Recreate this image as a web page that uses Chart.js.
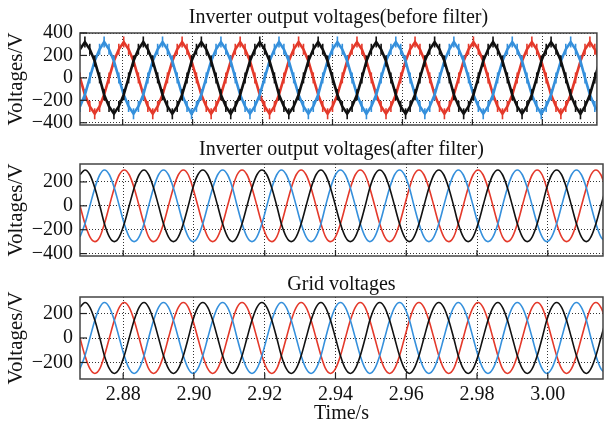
<!DOCTYPE html>
<html>
<head>
<meta charset="utf-8">
<script src="https://cdn.jsdelivr.net/npm/chart.js@4"></script>
<style>
  body { margin: 0; background: #fff; }
  #wrap { position: relative; width: 604px; height: 426px; }
  canvas { position: absolute; left: 0; }
</style>
</head>
<body>
<div id="wrap">
  <canvas id="c1" width="604" height="138" style="top:0;width:604px;height:138px"></canvas>
  <canvas id="c2" width="604" height="132" style="top:138px;width:604px;height:132px"></canvas>
  <canvas id="c3" width="604" height="156" style="top:270px;width:604px;height:156px"></canvas>
</div>
<script>
// sample times (s), 1/12 of a 60 Hz cycle apart
const times = [
  2.8678,2.8692,2.8706,2.8720,2.8734,2.8747,2.8761,2.8775,2.8789,2.8803,2.8817,2.8831,
  2.8845,2.8859,2.8872,2.8886,2.8900,2.8914,2.8928,2.8942,2.8956,2.8970,2.8984,2.8997,
  2.9011,2.9025,2.9039,2.9053,2.9067,2.9081,2.9095,2.9109,2.9122,2.9136,2.9150,2.9164,
  2.9178,2.9192,2.9206,2.9220,2.9234,2.9247,2.9261,2.9275,2.9289,2.9303,2.9317,2.9331,
  2.9345,2.9359,2.9372,2.9386,2.9400,2.9414,2.9428,2.9442,2.9456,2.9470,2.9484,2.9497,
  2.9511,2.9525,2.9539,2.9553,2.9567,2.9581,2.9595,2.9609,2.9622,2.9636,2.9650,2.9664,
  2.9678,2.9692,2.9706,2.9720,2.9734,2.9747,2.9761,2.9775,2.9789,2.9803,2.9817,2.9831,
  2.9845,2.9859,2.9872,2.9886,2.9900,2.9914,2.9928,2.9942,2.9956,2.9970,2.9984,2.9997,
  3.0011,3.0025,3.0039,3.0053,3.0067,3.0081,3.0095,3.0109,3.0122,3.0136,3.0150,3.0164
];

// inverter output before filter (staircase levels, V)
const beforeBlack = [
  255,320,255,150,0,-150,-255,-320,-255,-150,0,150,
  255,320,255,150,0,-150,-255,-320,-255,-150,0,150,
  255,320,255,150,0,-150,-255,-320,-255,-150,0,150,
  255,320,255,150,0,-150,-255,-320,-255,-150,0,150,
  255,320,255,150,0,-150,-255,-320,-255,-150,0,150,
  255,320,255,150,0,-150,-255,-320,-255,-150,0,150,
  255,320,255,150,0,-150,-255,-320,-255,-150,0,150,
  255,320,255,150,0,-150,-255,-320,-255,-150,0,150,
  255,320,255,150,0,-150,-255,-320,-255,-150,0,150
];
const beforeBlue = [
  -255,-150,0,150,255,320,255,150,0,-150,-255,-320,
  -255,-150,0,150,255,320,255,150,0,-150,-255,-320,
  -255,-150,0,150,255,320,255,150,0,-150,-255,-320,
  -255,-150,0,150,255,320,255,150,0,-150,-255,-320,
  -255,-150,0,150,255,320,255,150,0,-150,-255,-320,
  -255,-150,0,150,255,320,255,150,0,-150,-255,-320,
  -255,-150,0,150,255,320,255,150,0,-150,-255,-320,
  -255,-150,0,150,255,320,255,150,0,-150,-255,-320,
  -255,-150,0,150,255,320,255,150,0,-150,-255,-320
];
const beforeRed = [
  0,-150,-255,-320,-255,-150,0,150,255,320,255,150,
  0,-150,-255,-320,-255,-150,0,150,255,320,255,150,
  0,-150,-255,-320,-255,-150,0,150,255,320,255,150,
  0,-150,-255,-320,-255,-150,0,150,255,320,255,150,
  0,-150,-255,-320,-255,-150,0,150,255,320,255,150,
  0,-150,-255,-320,-255,-150,0,150,255,320,255,150,
  0,-150,-255,-320,-255,-150,0,150,255,320,255,150,
  0,-150,-255,-320,-255,-150,0,150,255,320,255,150,
  0,-150,-255,-320,-255,-150,0,150,255,320,255,150
];

// inverter output after filter (V)
const afterBlack = [
  260,300,260,150,0,-150,-260,-300,-260,-150,0,150,
  260,300,260,150,0,-150,-260,-300,-260,-150,0,150,
  260,300,260,150,0,-150,-260,-300,-260,-150,0,150,
  260,300,260,150,0,-150,-260,-300,-260,-150,0,150,
  260,300,260,150,0,-150,-260,-300,-260,-150,0,150,
  260,300,260,150,0,-150,-260,-300,-260,-150,0,150,
  260,300,260,150,0,-150,-260,-300,-260,-150,0,150,
  260,300,260,150,0,-150,-260,-300,-260,-150,0,150,
  260,300,260,150,0,-150,-260,-300,-260,-150,0,150
];
const afterBlue = [
  -260,-150,0,150,260,300,260,150,0,-150,-260,-300,
  -260,-150,0,150,260,300,260,150,0,-150,-260,-300,
  -260,-150,0,150,260,300,260,150,0,-150,-260,-300,
  -260,-150,0,150,260,300,260,150,0,-150,-260,-300,
  -260,-150,0,150,260,300,260,150,0,-150,-260,-300,
  -260,-150,0,150,260,300,260,150,0,-150,-260,-300,
  -260,-150,0,150,260,300,260,150,0,-150,-260,-300,
  -260,-150,0,150,260,300,260,150,0,-150,-260,-300,
  -260,-150,0,150,260,300,260,150,0,-150,-260,-300
];
const afterRed = [
  0,-150,-260,-300,-260,-150,0,150,260,300,260,150,
  0,-150,-260,-300,-260,-150,0,150,260,300,260,150,
  0,-150,-260,-300,-260,-150,0,150,260,300,260,150,
  0,-150,-260,-300,-260,-150,0,150,260,300,260,150,
  0,-150,-260,-300,-260,-150,0,150,260,300,260,150,
  0,-150,-260,-300,-260,-150,0,150,260,300,260,150,
  0,-150,-260,-300,-260,-150,0,150,260,300,260,150,
  0,-150,-260,-300,-260,-150,0,150,260,300,260,150,
  0,-150,-260,-300,-260,-150,0,150,260,300,260,150
];

// grid voltages (V)
const gridBlack = [
  251,290,251,145,0,-145,-251,-290,-251,-145,0,145,
  251,290,251,145,0,-145,-251,-290,-251,-145,0,145,
  251,290,251,145,0,-145,-251,-290,-251,-145,0,145,
  251,290,251,145,0,-145,-251,-290,-251,-145,0,145,
  251,290,251,145,0,-145,-251,-290,-251,-145,0,145,
  251,290,251,145,0,-145,-251,-290,-251,-145,0,145,
  251,290,251,145,0,-145,-251,-290,-251,-145,0,145,
  251,290,251,145,0,-145,-251,-290,-251,-145,0,145,
  251,290,251,145,0,-145,-251,-290,-251,-145,0,145
];
const gridBlue = [
  -251,-145,0,145,251,290,251,145,0,-145,-251,-290,
  -251,-145,0,145,251,290,251,145,0,-145,-251,-290,
  -251,-145,0,145,251,290,251,145,0,-145,-251,-290,
  -251,-145,0,145,251,290,251,145,0,-145,-251,-290,
  -251,-145,0,145,251,290,251,145,0,-145,-251,-290,
  -251,-145,0,145,251,290,251,145,0,-145,-251,-290,
  -251,-145,0,145,251,290,251,145,0,-145,-251,-290,
  -251,-145,0,145,251,290,251,145,0,-145,-251,-290,
  -251,-145,0,145,251,290,251,145,0,-145,-251,-290
];
const gridRed = [
  0,-145,-251,-290,-251,-145,0,145,251,290,251,145,
  0,-145,-251,-290,-251,-145,0,145,251,290,251,145,
  0,-145,-251,-290,-251,-145,0,145,251,290,251,145,
  0,-145,-251,-290,-251,-145,0,145,251,290,251,145,
  0,-145,-251,-290,-251,-145,0,145,251,290,251,145,
  0,-145,-251,-290,-251,-145,0,145,251,290,251,145,
  0,-145,-251,-290,-251,-145,0,145,251,290,251,145,
  0,-145,-251,-290,-251,-145,0,145,251,290,251,145,
  0,-145,-251,-290,-251,-145,0,145,251,290,251,145
];

const xTicks = [2.88, 2.90, 2.92, 2.94, 2.96, 2.98, 3.00];
const yTicksWide = [-400, -200, 0, 200, 400];
const yTicksMid = [-400, -200, 0, 200];
const yTicksGrid = [-200, 0, 200];

const BLACK = '#111111', BLUE = '#3590dc', RED = '#e4392a';
const SERIF = '"Liberation Serif", "Times New Roman", serif';

// frame round the plot + short inner tick marks
const framePlugin = {
  id: 'frame',
  afterDatasetsDraw(chart) {
    const a = chart.chartArea, ctx = chart.ctx;
    ctx.save();
    ctx.strokeStyle = '#444';
    ctx.lineWidth = 1.5;
    ctx.strokeRect(a.left, a.top, a.right - a.left, a.bottom - a.top);
    ctx.lineWidth = 1.2;
    ctx.strokeStyle = '#222';
    chart.scales.x.ticks.forEach(t => {
      const px = chart.scales.x.getPixelForValue(t.value);
      ctx.beginPath(); ctx.moveTo(px, a.bottom); ctx.lineTo(px, a.bottom - 6); ctx.stroke();
    });
    chart.scales.y.ticks.forEach(t => {
      const py = chart.scales.y.getPixelForValue(t.value);
      ctx.beginPath(); ctx.moveTo(a.left, py); ctx.lineTo(a.left + 7, py); ctx.stroke();
    });
    ctx.restore();
  }
};

function series(arr, color, jagged) {
  return {
    data: times.map((t, i) => ({ x: t, y: arr[i] })),
    borderColor: color,
    backgroundColor: color,
    borderWidth: jagged ? 2.6 : 1.6,
    cubicInterpolationMode: jagged ? 'default' : 'monotone',
    tension: 0,
    pointRadius: jagged ? 5.5 : 0,
    pointStyle: 'line',
    pointRotation: 90,
    pointBorderWidth: 1.6,
    pointBorderColor: color
  };
}

function makePanel(id, title, sets, yMin, yMax, yTicks, p) {
  new Chart(document.getElementById(id), {
    type: 'line',
    data: { datasets: sets },
    plugins: [framePlugin],
    options: {
      responsive: false,
      animation: false,
      events: [],
      layout: { padding: { left: 0, right: 1, top: 0, bottom: 0 } },
      plugins: {
        legend: { display: false },
        tooltip: { enabled: false },
        title: {
          display: true, text: title, fullSize: false, color: '#111',
          font: { family: SERIF, size: 20, weight: 'normal' },
          padding: { top: p.titleTop, bottom: p.titleBottom }
        }
      },
      scales: {
        x: {
          type: 'linear', min: 2.8678, max: 3.0156,
          afterBuildTicks: s => { s.ticks = xTicks.map(v => ({ value: v })); },
          afterFit: s => { s.height = p.xHeight; },
          grid: { color: '#333', lineWidth: 1, drawTicks: true, tickLength: 4, tickColor: 'rgba(0,0,0,0)' },
          border: { display: false, dash: [1, 2] },
          ticks: {
            display: p.showX, padding: 0, color: '#111', maxRotation: 0, autoSkip: false,
            font: { family: SERIF, size: 20 },
            callback: v => v.toFixed(2)
          },
          title: {
            display: p.showX, text: 'Time/s', color: '#111',
            font: { family: SERIF, size: 20 }, padding: { top: 0, bottom: 0 }
          }
        },
        y: {
          min: yMin, max: yMax,
          afterBuildTicks: s => { s.ticks = yTicks.map(v => ({ value: v })); },
          afterFit: s => { s.width = 80; },
          grid: { color: '#333', lineWidth: 1, drawTicks: true, tickLength: 7, tickColor: 'rgba(0,0,0,0)' },
          border: { display: false, dash: [1, 2] },
          ticks: {
            padding: 0, color: '#111', autoSkip: false,
            font: { family: SERIF, size: 20 },
            callback: v => v < 0 ? '\u2212' + Math.abs(v) : String(v)
          },
          title: {
            display: true, text: 'Voltages/V', color: '#111',
            font: { family: SERIF, size: 21 }, padding: { top: 4, bottom: 0 }
          }
        }
      }
    }
  });
}

makePanel('c1', 'Inverter output voltages(before filter)',
  [series(beforeBlack, BLACK, true), series(beforeBlue, BLUE, true), series(beforeRed, RED, true)],
  -420, 400, yTicksWide, { titleTop: 6, titleBottom: 3, xHeight: 13, showX: false });

makePanel('c2', 'Inverter output voltages(after filter)',
  [series(afterBlack, BLACK, false), series(afterBlue, BLUE, false), series(afterRed, RED, false)],
  -420, 350, yTicksMid, { titleTop: 0, titleBottom: 2, xHeight: 14, showX: false });

makePanel('c3', 'Grid voltages',
  [series(gridBlack, BLACK, false), series(gridBlue, BLUE, false), series(gridRed, RED, false)],
  -335, 335, yTicksGrid, { titleTop: 3, titleBottom: 0, xHeight: 47, showX: true });
</script>
</body>
</html>
